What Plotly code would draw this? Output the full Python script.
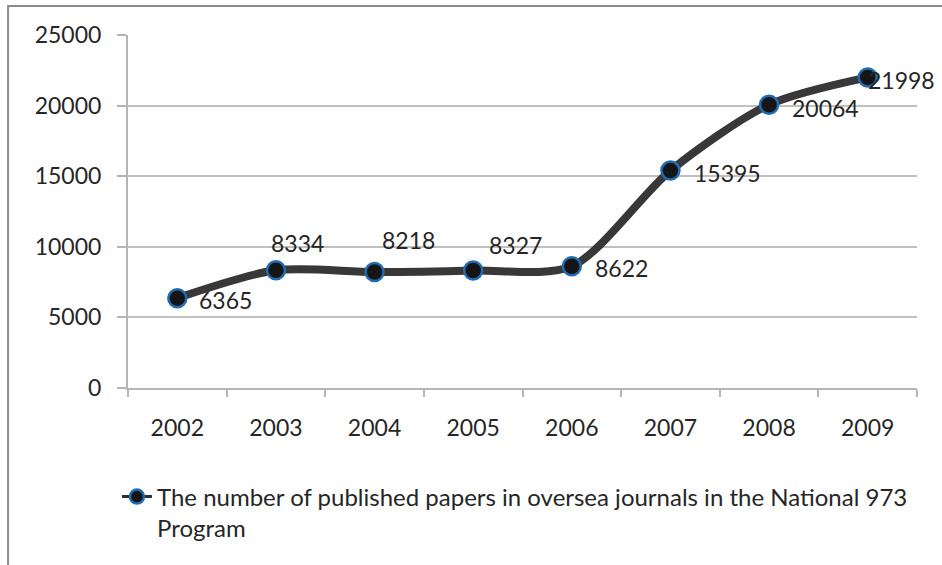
import plotly.graph_objects as go

years = ["2002", "2003", "2004", "2005", "2006", "2007", "2008", "2009"]
papers = [6365, 8334, 8218, 8327, 8622, 15395, 20064, 21998]
series_name = "The number of published papers in oversea journals in the National 973<br>Program"
y_ticks = [0, 5000, 10000, 15000, 20000, 25000]

# label offsets (pixels) for each data label, relative to its point
label_dx = [48, 22, 34, 42, 50, 57, 56, 34]
label_dy = [2, -27, -32, -25, 2, 2, 3, 3]

FONT = "Lato"
TXT = "#262626"

fig = go.Figure()
fig.add_trace(go.Scatter(
    x=years, y=papers, mode="lines+markers", name=series_name, showlegend=False,
    line=dict(color="#383838", width=8, shape="spline", smoothing=0.8),
    marker=dict(size=18, color="#151515", line=dict(color="#1f6db3", width=2.5)),
))
# legend entry (thin line like the original legend key)
fig.add_trace(go.Scatter(
    x=[None], y=[None], mode="lines+markers", name=series_name, showlegend=True,
    line=dict(color="#303030", width=3),
    marker=dict(size=14, color="#151515", line=dict(color="#1f6db3", width=2.5)),
))

annotations = []
for i, (y, dx, dy) in enumerate(zip(papers, label_dx, label_dy)):
    annotations.append(dict(
        x=i, y=y, xref="x", yref="y", text=f"{y}", showarrow=False,
        xshift=dx, yshift=-dy, font=dict(family=FONT, size=23, color=TXT),
    ))

fig.update_layout(
    width=942, height=565,
    margin=dict(l=128, r=25, t=35, b=177),
    paper_bgcolor="white", plot_bgcolor="white",
    font=dict(family=FONT, size=23, color=TXT),
    showlegend=True,
    legend=dict(x=-0.014, y=-0.245, xanchor="left", yanchor="top", valign="top",
                font=dict(family=FONT, size=24, color=TXT),
                bgcolor="rgba(0,0,0,0)", itemwidth=30),
    annotations=annotations,
    shapes=[dict(type="rect", xref="paper", yref="paper",
                 x0=-0.152, x1=1.2, y0=-0.7, y1=1.082,
                 line=dict(color="#8c8c8c", width=2))],
)

fig.update_xaxes(
    type="category", range=[-0.5, 7.5],
    showline=True, linecolor="#b5b5b5", linewidth=2,
    ticks="outside", tickson="boundaries", ticklen=7, tickcolor="#b5b5b5", tickwidth=2,
    showgrid=False, ticklabelstandoff=18,
    tickfont=dict(family=FONT, size=23, color=TXT),
)
fig.update_yaxes(
    range=[0, 25000], tickvals=y_ticks, tickformat="d",
    showline=True, linecolor="#b5b5b5", linewidth=2,
    ticks="outside", ticklen=9, tickcolor="#b5b5b5", tickwidth=2,
    showgrid=True, gridcolor="#c0c0c0", gridwidth=2, zeroline=False,
    ticklabelstandoff=11,
    tickfont=dict(family=FONT, size=23, color=TXT),
)

fig.write_html("out.html")
